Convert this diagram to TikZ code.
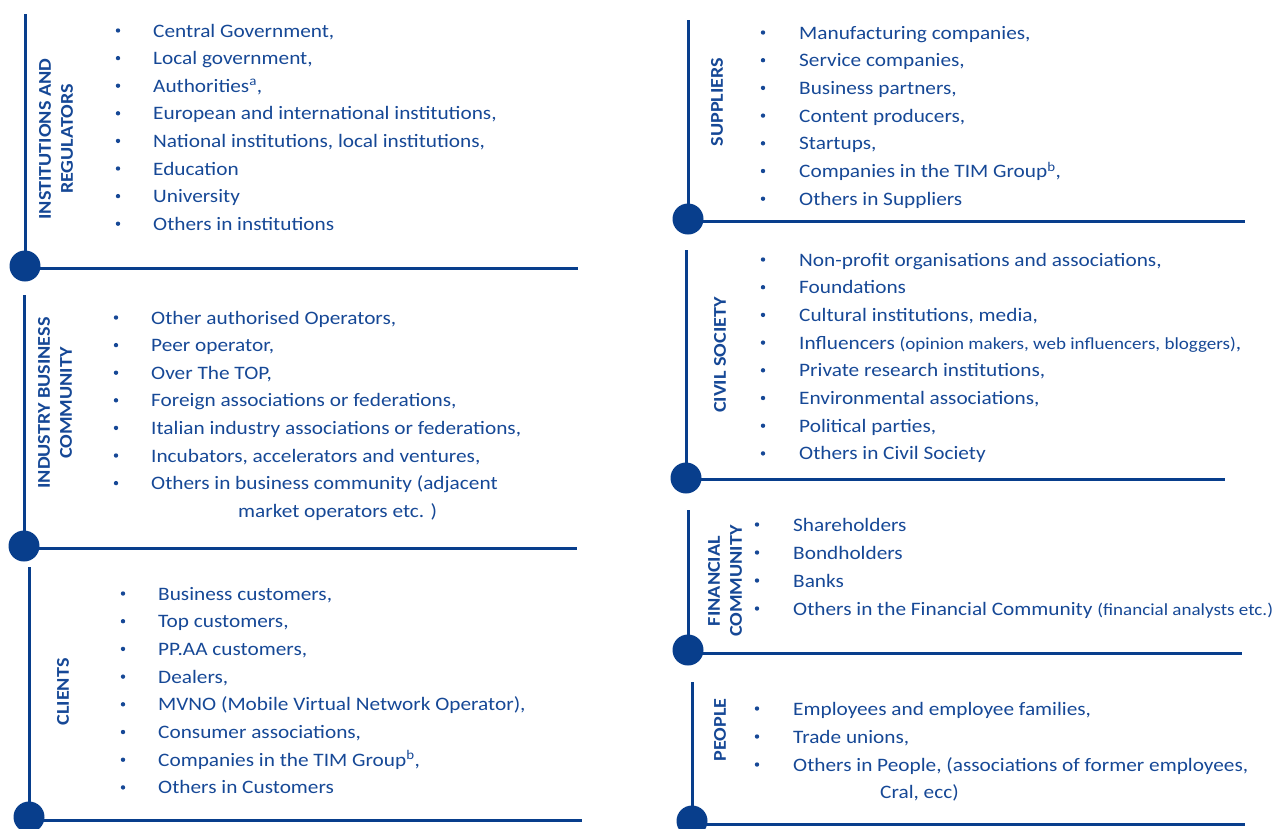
\documentclass[tikz,border=0pt]{standalone}
\usepackage{fontspec}
\setmainfont{Carlito}[FakeStretch=1.12]
\definecolor{db}{RGB}{8,62,140}
\definecolor{tb}{RGB}{22,72,150}
\tikzset{
  txt/.style={anchor=base west, inner sep=0pt, font=\fontsize{19}{22}\selectfont, text=tb},
  lbl/.style={rotate=90, align=center, inner sep=0pt, font=\bfseries\fontsize{18}{22}\selectfont, text=tb},
  rule/.style={draw=db, line width=3pt},
  knob/.style={fill=db},
  dot/.style={fill=tb},
}
\newcommand\stsmall{\fontsize{17}{18}\selectfont}
% #1 prefix, #2 bullet x, #3 text x, #4 first y, #5 step, #6 items
\newcommand\stlist[6]{%
  \foreach \t [count=\i] in {#6} {
    \pgfmathsetmacro\yy{#4+(\i-1)*#5}
    \fill[dot] (#2,\yy-0.5) circle (2.2pt);
    \node[txt] (#1\i) at (#3,\yy+6) {\t};
  }%
}
% #1 name, #2 x, #3 top y, #4 bottom y, #5 end x, #6 hline y
\newcommand\stpanel[6]{%
  \coordinate (#1t) at (#2,#3);
  \coordinate (#1c) at (#2,#4);
  \coordinate (#1h) at (#2,#6);
  \coordinate (#1e) at (#5,#6);
  \draw[rule] (#1t) -- (#1c);
  \draw[rule] (#1h) -- (#1e);
  \fill[knob] (#1c) circle (15.5pt);
}
\begin{document}
\begin{tikzpicture}[x=1pt,y=-1pt]
\useasboundingbox (0,0) rectangle (1281,828);

% ---------- left column ----------
\stpanel{ir}{25}{14}{266}{578}{268}
\node[lbl] (irl) at (56,139) {INSTITUTIONS AND\\REGULATORS};
\stlist{ir}{118}{153}{31}{27.6}{{Central Government,},{Local government,},{Authorities\textsuperscript{a},},{European and international institutions,},{National institutions, local institutions,},{Education},{University},{Others in institutions}}

\stpanel{ib}{24}{295}{546}{577}{548}
\node[lbl] (ibl) at (55,403) {INDUSTRY BUSINESS\\COMMUNITY};
\stlist{ib}{116}{151}{318}{27.6}{{Other authorised Operators,},{Peer operator,},{Over The TOP,},{Foreign associations or federations,},{Italian industry associations or federations,},{Incubators, accelerators and ventures,},{Others in business community (adjacent}}
\node[txt] (ib8) at (238,517) {market operators etc. )};

\stpanel{cl}{29}{567}{817}{582}{820}
\node[lbl] (cll) at (63,692) {CLIENTS};
\stlist{cl}{123}{158}{594}{27.7}{{Business customers,},{Top customers,},{PP.AA customers,},{Dealers,},{MVNO (Mobile Virtual Network Operator),},{Consumer associations,},{Companies in the TIM Group\textsuperscript{b},},{Others in Customers}}

% ---------- right column ----------
\stpanel{su}{688}{20}{219}{1245}{221}
\node[lbl] (sul) at (717,102) {SUPPLIERS};
\stlist{su}{763}{799}{33}{27.7}{{Manufacturing companies,},{Service companies,},{Business partners,},{Content producers,},{Startups,},{Companies in the TIM Group\textsuperscript{b},},{Others in Suppliers}}

\stpanel{cs}{686}{250}{478}{1225}{479}
\node[lbl] (csl) at (720,355) {CIVIL SOCIETY};
\stlist{cs}{763}{799}{260}{27.7}{{Non-profit organisations and associations,},{Foundations},{Cultural institutions, media,},{Influencers {\stsmall(opinion makers, web influencers, bloggers)},},{Private research institutions,},{Environmental associations,},{Political parties,},{Others in Civil Society}}

\stpanel{fc}{688}{510}{650}{1242}{653}
\node[lbl] (fcl) at (725,581) {FINANCIAL\\COMMUNITY};
\stlist{fc}{757}{793}{525}{28}{{Shareholders},{Bondholders},{Banks},{Others in the Financial Community {\stsmall(financial analysts etc.)}}}

\stpanel{pe}{692}{682}{821}{1245}{824}
\node[lbl] (pel) at (720,730) {PEOPLE};
\stlist{pe}{757}{793}{709}{28}{{Employees and employee families,},{Trade unions,},{Others in People, (associations of former employees,}}
\node[txt] (pe4) at (880,798) {Cral, ecc)};
\end{tikzpicture}
\end{document}
